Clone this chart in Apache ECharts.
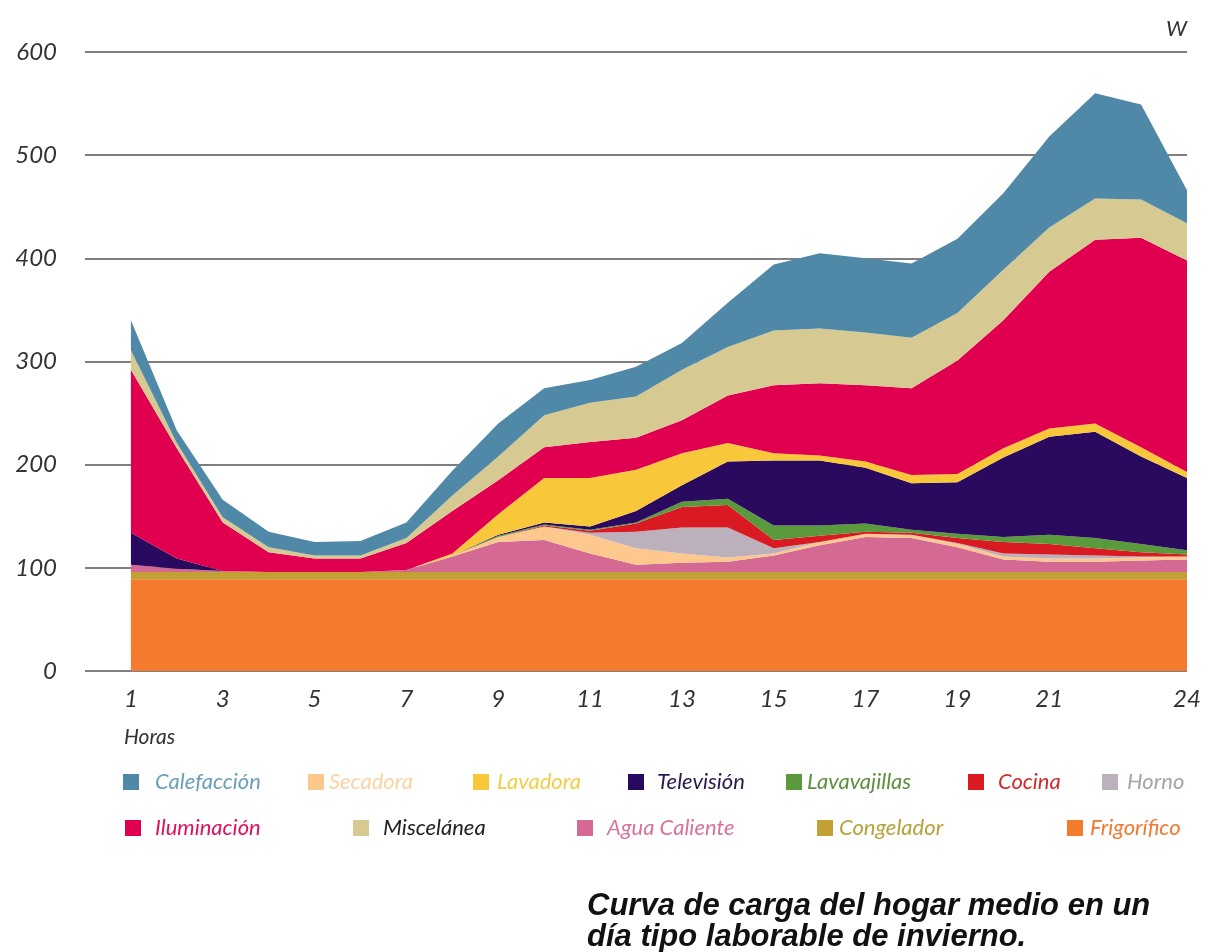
<!DOCTYPE html>
<html>
<head>
<meta charset="utf-8">
<script src="https://cdn.jsdelivr.net/npm/echarts@6/dist/echarts.min.js"></script>
<style>
  html, body { margin: 0; padding: 0; background: #fff; }
  #chart { width: 1217px; height: 952px; }
</style>
</head>
<body>
<div id="chart"></div>
<script>
// hours of the day
const hours = [1, 2, 3, 4, 5, 6, 7, 8, 9, 10, 11, 12, 13, 14, 15, 16, 17, 18, 19, 20, 21, 22, 23, 24];
const hourLabels = ['1', '3', '5', '7', '9', '11', '13', '15', '17', '19', '21', '24'];
const yTicks = [0, 100, 200, 300, 400, 500, 600];

// load per appliance, W (stacked bottom -> top)
const frigorifico  = [89, 89, 89, 89, 89, 89, 89, 89, 89, 89, 89, 89, 89, 89, 89, 89, 89, 89, 89, 89, 89, 89, 89, 89];
const congelador   = [7, 7, 7, 7, 7, 7, 7, 7, 7, 7, 7, 7, 7, 7, 7, 7, 7, 7, 7, 7, 7, 7, 7, 7];
const aguaCaliente = [7, 3, 1, 0, 0, 0, 2, 15, 29, 31, 18, 7, 9, 10, 16, 26, 34, 33, 24, 12, 10, 10, 11, 12];
const secadora     = [0, 0, 0, 0, 0, 0, 0, 1, 5, 13, 18, 16, 9, 4, 2, 3, 3, 3, 3, 3, 3, 3, 3, 3];
const horno        = [0, 0, 0, 0, 0, 0, 0, 0, 0, 0, 2, 16, 25, 29, 5, 0, 0, 0, 1, 3, 4, 3, 1, 0];
const cocina       = [0, 0, 0, 0, 0, 0, 0, 0, 0, 1, 2, 8, 20, 22, 8, 6, 2, 2, 5, 11, 10, 7, 4, 2];
const lavavajillas = [0, 0, 0, 0, 0, 0, 0, 0, 1, 1, 1, 1, 5, 6, 14, 10, 8, 3, 4, 5, 9, 10, 8, 4];
const television   = [31, 10, 0, 0, 0, 0, 0, 0, 1, 2, 3, 11, 16, 36, 63, 63, 54, 45, 50, 77, 95, 103, 85, 70];
const lavadora     = [0, 0, 0, 0, 0, 0, 0, 2, 20, 43, 47, 40, 31, 18, 7, 5, 6, 8, 8, 9, 8, 8, 9, 6];
const iluminacion  = [158, 107, 47, 19, 13, 13, 26, 41, 33, 30, 35, 31, 32, 46, 66, 70, 74, 84, 110, 124, 152, 178, 203, 205];
const miscelanea   = [19, 5, 5, 5, 3, 3, 5, 15, 23, 31, 38, 40, 49, 47, 53, 53, 51, 49, 46, 49, 43, 40, 37, 36];
const calefaccion  = [29, 12, 17, 15, 13, 14, 15, 24, 32, 26, 22, 29, 26, 43, 64, 73, 72, 72, 72, 74, 88, 102, 92, 32];

// series definitions, bottom of the stack first
const layers = [
    {name: 'Frigorífico',   values: frigorifico,  color: '#f47a2e', text: '#f07a30'},
    {name: 'Congelador',    values: congelador,   color: '#c2a034', text: '#b8a23a'},
    {name: 'Agua Caliente', values: aguaCaliente, color: '#d46a93', text: '#d9729a'},
    {name: 'Secadora',      values: secadora,     color: '#fcc88e', text: '#fbd3a2'},
    {name: 'Horno',         values: horno,        color: '#bcb0bc', text: '#a9a2a9'},
    {name: 'Cocina',        values: cocina,       color: '#d91a22', text: '#d6282a'},
    {name: 'Lavavajillas',  values: lavavajillas, color: '#5a9a3c', text: '#5d8f3e'},
    {name: 'Televisión',    values: television,   color: '#2a0a5e', text: '#2a1a50'},
    {name: 'Lavadora',      values: lavadora,     color: '#f9c83a', text: '#f2cf45'},
    {name: 'Iluminación',   values: iluminacion,  color: '#e0004f', text: '#e0105a'},
    {name: 'Miscelánea',    values: miscelanea,   color: '#d6c992', text: '#222222'},
    {name: 'Calefacción',   values: calefaccion,  color: '#5089a8', text: '#6a9fb8'}
];

// legend placement: [name, left, top, gap to text]
const legendPos = [
    ['Calefacción', 118, 766, 11], ['Secadora', 303, 766, 0], ['Lavadora', 468, 766, 3],
    ['Televisión', 623, 766, 8], ['Lavavajillas', 781, 766, 0], ['Cocina', 963, 766, 9],
    ['Horno', 1097, 766, 4],
    ['Iluminación', 120, 812, 9], ['Miscelánea', 348, 812, 9], ['Agua Caliente', 572, 812, 9],
    ['Congelador', 812, 812, 1], ['Frigorífico', 1062, 812, 2]
];

const font = 'Lato, "Open Sans", sans-serif';

function initChart() {
    let chart = echarts.init(document.getElementById('chart'));

    // an empty slot for hour 0 so the grid lines start left of hour 1
    let categories = ['0'].concat(hours.map(String));

    let legends = legendPos.map(function (p) {
        let layer = layers.find(l => l.name === p[0]);
        return {
            data: [p[0]],
            left: p[1],
            top: p[2],
            icon: 'rect',
            itemWidth: 16,
            itemHeight: 16,
            selectedMode: false,
            textStyle: {
                color: layer.text,
                fontFamily: font,
                fontStyle: 'italic',
                fontSize: 22,
                padding: [0, 0, 0, p[3]]
            }
        };
    });

    let series = layers.map(function (l) {
        return {
            name: l.name,
            type: 'line',
            stack: 'total',
            symbol: 'none',
            silent: true,
            lineStyle: {width: 0},
            itemStyle: {color: l.color},
            areaStyle: {color: l.color, opacity: 1},
            data: ['-'].concat(l.values)
        };
    });

    let option = {
        backgroundColor: '#ffffff',
        animation: false,
        title: {
            text: 'Curva de carga del hogar medio en un\ndía tipo laborable de invierno.',
            left: 582,
            top: 886,
            textStyle: {
                fontFamily: '"Liberation Sans", Arial, sans-serif',
                fontStyle: 'italic',
                fontWeight: 'bold',
                fontSize: 31,
                lineHeight: 31,
                color: '#111'
            }
        },
        legend: legends,
        grid: {left: 85, right: 30, top: 52, bottom: 281},
        xAxis: {
            type: 'category',
            boundaryGap: false,
            data: categories,
            axisLine: {show: false},
            axisTick: {show: false},
            splitLine: {show: false},
            axisLabel: {
                interval: 0,
                margin: 16,
                fontFamily: font,
                fontStyle: 'italic',
                fontSize: 24,
                color: '#333',
                formatter: function (v) {
                    return hourLabels.indexOf(v) >= 0 ? v : '';
                }
            }
        },
        yAxis: {
            type: 'value',
            min: yTicks[0],
            max: yTicks[yTicks.length - 1],
            interval: 100,
            axisLine: {show: false},
            axisTick: {show: false},
            splitLine: {lineStyle: {color: '#555', width: 1.5}},
            axisLabel: {
                margin: 28,
                fontFamily: font,
                fontStyle: 'italic',
                fontSize: 24,
                color: '#333'
            }
        },
        graphic: [
            {
                type: 'text', left: 124, top: 727, z: 10,
                style: {text: 'Horas', fontFamily: font, fontStyle: 'italic', fontSize: 21, fill: '#333'}
            },
            {
                type: 'text', left: 1166, top: 18, z: 10,
                style: {text: 'W', fontFamily: font, fontStyle: 'italic', fontSize: 22, fill: '#333'}
            }
        ],
        series: series
    };
    chart.setOption(option);
}

initChart();
</script>
</body>
</html>
